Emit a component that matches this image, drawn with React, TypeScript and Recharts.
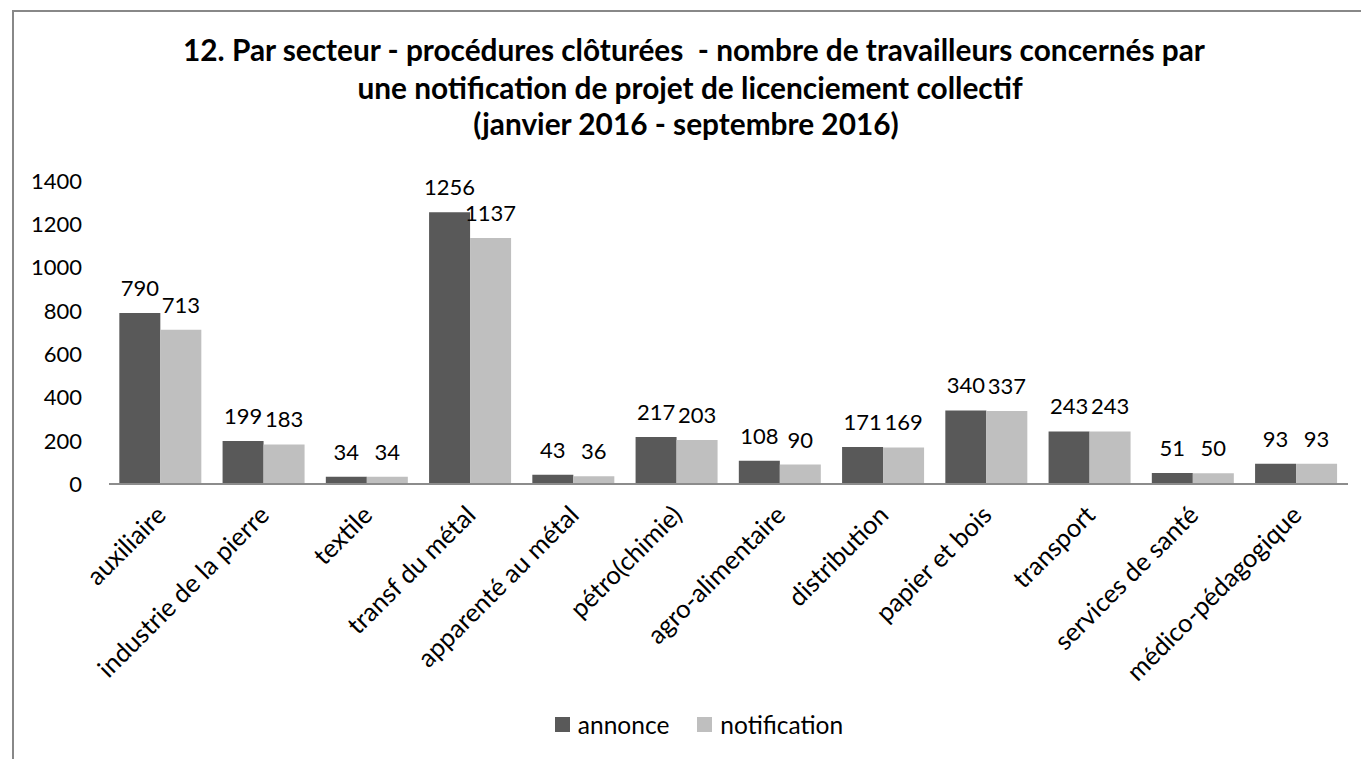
import React from "react";
import { BarChart, Bar, XAxis, YAxis, LabelList, Legend } from "recharts";

const categories = [
  "auxiliaire",
  "industrie de la pierre",
  "textile",
  "transf du métal",
  "apparenté au métal",
  "pétro(chimie)",
  "agro-alimentaire",
  "distribution",
  "papier et bois",
  "transport",
  "services de santé",
  "médico-pédagogique",
];
const annonce = [790, 199, 34, 1256, 43, 217, 108, 171, 340, 243, 51, 93];
const notification = [713, 183, 34, 1137, 36, 203, 90, 169, 337, 243, 50, 93];
const yTicks = [0, 200, 400, 600, 800, 1000, 1200, 1400];

const titleLines = [
  { text: "12. Par secteur - procédures clôturées  - nombre de travailleurs concernés par", center: 694, top: 33 },
  { text: "une notification de projet de licenciement collectif", center: 690, top: 71 },
  { text: "(janvier 2016 - septembre 2016)", center: 686, top: 107 },
];

const data = categories.map((name, i) => ({
  name,
  annonce: annonce[i],
  notification: notification[i],
}));

const FONT = "Lato, 'Open Sans', sans-serif";
const DARK = "#595959";
const LIGHT = "#bfbfbf";

function LegendContent() {
  const items = [
    { label: "annonce", color: DARK },
    { label: "notification", color: LIGHT },
  ];
  return (
    <div style={{ display: "flex", justifyContent: "center", gap: 28, fontFamily: FONT, fontSize: 24.5, paddingLeft: 50 }}>
      {items.map((it) => (
        <div key={it.label} style={{ display: "flex", alignItems: "center" }}>
          <span style={{ width: 15, height: 15, background: it.color, marginRight: 8, display: "inline-block" }} />
          <span>{it.label}</span>
        </div>
      ))}
    </div>
  );
}

export default function App() {
  return (
    <div style={{ position: "absolute", left: 0, top: 0, width: 1361, height: 759, background: "#fff", overflow: "hidden" }}>
      <div
        style={{
          position: "absolute",
          left: 12,
          top: 10,
          width: 1400,
          height: 800,
          borderLeft: "2px solid #888",
          borderTop: "2px solid #888",
        }}
      />
      {titleLines.map((l) => (
        <div
          key={l.text}
          style={{
            position: "absolute",
            left: l.center - 650,
            width: 1300,
            top: l.top,
            textAlign: "center",
            fontFamily: FONT,
            fontWeight: 700,
            fontSize: 29.8,
            whiteSpace: "pre",
            lineHeight: "34px",
          }}
        >
          {l.text}
        </div>
      ))}
      <div style={{ position: "absolute", left: 0, top: 0 }}>
        <BarChart
          width={1361}
          height={759}
          data={data}
          margin={{ top: 181, right: 13, left: 0, bottom: 20 }}
          barCategoryGap="10%"
          barGap={0}
        >
          <XAxis
            dataKey="name"
            interval={0}
            tickLine={false}
            axisLine={{ stroke: "#8c8c8c", strokeWidth: 2 }}
            height={226}
            tick={{ fontFamily: FONT, fontSize: 25.5, fill: "#000", dx: -6 }}
            angle={-45}
            textAnchor="end"
            tickMargin={14}
          />
          <YAxis
            domain={[0, 1400]}
            ticks={yTicks}
            width={109}
            axisLine={false}
            tickLine={false}
            tickSize={0}
            tickMargin={27}
            tick={{ fontFamily: FONT, fontSize: 22, fill: "#000" }}
          />
          <Legend verticalAlign="bottom" align="center" content={<LegendContent />} />
          <Bar dataKey="annonce" fill={DARK} isAnimationActive={false}>
            <LabelList dataKey="annonce" position="top" offset={17} style={{ fontFamily: FONT, fontSize: 22, fill: "#000" }} />
          </Bar>
          <Bar dataKey="notification" fill={LIGHT} isAnimationActive={false}>
            <LabelList dataKey="notification" position="top" offset={17} style={{ fontFamily: FONT, fontSize: 22, fill: "#000" }} />
          </Bar>
        </BarChart>
      </div>
    </div>
  );
}
